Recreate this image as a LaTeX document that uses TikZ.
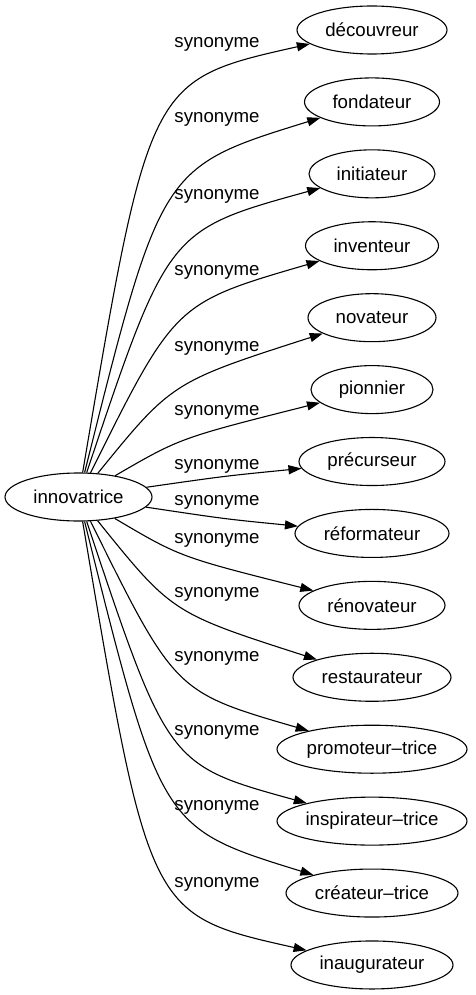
\documentclass[tikz,border=0pt]{standalone}
\usepackage{fontspec}
\setmainfont{Liberation Sans}
\usetikzlibrary{arrows.meta,shapes.geometric}

\begin{document}
\begin{tikzpicture}[x=1pt,y=-1pt,
    word/.style={draw, ellipse, line width=1.1pt, inner sep=0pt, minimum height=48pt, font=\fontsize{18.67}{22}\selectfont},
    syn/.style={inner sep=0pt, font=\fontsize{18.67}{22}\selectfont},
    edge/.style={line width=1.1pt, -{Triangle[length=13pt,width=9pt]}}]

    \useasboundingbox (0,0) rectangle (475,995);

    \node[word, minimum width=147pt] (src) at (78.5,497) {innovatrice};

    % targets: index/name/text/width/label y/knee
    \foreach \i/\n/\t/\w/\ly/\kx/\ky in {
        0/dec/découvreur/150pt/44/149/80,
        1/fon/fondateur/135pt/119/161/167,
        2/ini/initiateur/126pt/196/168/230,
        3/inv/inventeur/133pt/272/175/303,
        4/nov/novateur/128pt/348/172/382,
        5/pio/pionnier/122pt/412/180/438,
        6/pre/précurseur/146pt/466/225/476,
        7/ref/réformateur/154pt/502/225/519,
        8/ren/rénovateur/146pt/540/180/557,
        9/res/restaurateur/158pt/594/172/613,
        10/pro/promoteur–trice/190pt/658/175/692,
        11/ins/inspirateur–trice/190pt/732/168/765,
        12/cre/créateur–trice/172pt/807/161/828,
        13/ina/inaugurateur/162pt/884/149/915}  {
      \node[word, minimum width=\w] (\n) at (372,30+71.92*\i) {\t};
      \node[syn] (l\n) at (217,\ly) {synonyme};
      \draw[edge] (src) .. controls (\kx,\ky) .. (\n);
    }

\end{tikzpicture}
\end{document}
